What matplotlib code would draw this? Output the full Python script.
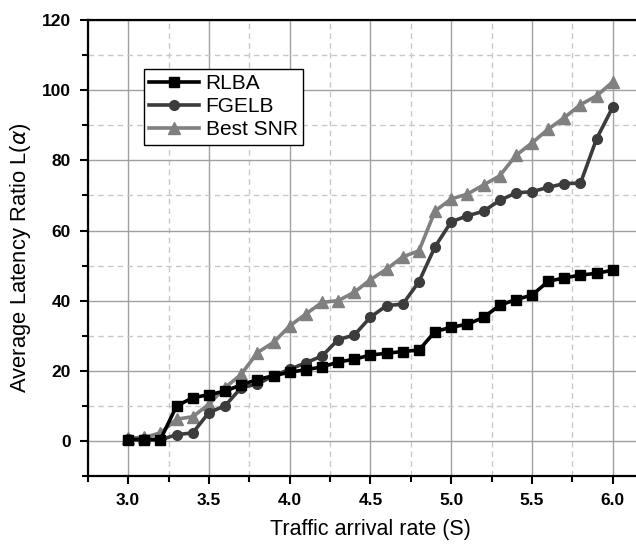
import matplotlib
matplotlib.use('Agg')
import matplotlib.pyplot as plt
from matplotlib.ticker import MultipleLocator

# traffic arrival rate, 3.0 .. 6.0 in steps of 0.1
rates = [3.0, 3.1, 3.2, 3.3, 3.4, 3.5, 3.6, 3.7, 3.8, 3.9,
         4.0, 4.1, 4.2, 4.3, 4.4, 4.5, 4.6, 4.7, 4.8, 4.9,
         5.0, 5.1, 5.2, 5.3, 5.4, 5.5, 5.6, 5.7, 5.8, 5.9, 6.0]

rlba = [0.4, 0.3, 0.4, 10.0, 12.3, 13.2, 14.2, 16.0, 17.5, 18.6,
        19.6, 20.3, 21.1, 22.5, 23.3, 24.5, 25.0, 25.5, 25.9, 31.2,
        32.4, 33.3, 35.2, 38.7, 40.3, 41.6, 45.5, 46.5, 47.3, 47.8, 48.7]

fgelb = [0.5, 0.6, 0.3, 1.8, 2.3, 8.1, 10.0, 15.2, 16.2, 18.6,
         20.4, 22.3, 24.2, 28.9, 30.2, 35.3, 38.6, 39.0, 45.4, 55.4,
         62.5, 64.2, 65.5, 68.6, 70.7, 71.1, 72.3, 73.4, 73.5, 86.2, 95.2]

best_snr = [0.8, 1.0, 2.3, 6.2, 6.9, 10.5, 15.2, 19.0, 25.2, 28.1,
            32.8, 36.2, 39.5, 40.0, 42.4, 46.0, 49.0, 52.5, 54.2, 65.6,
            69.0, 70.4, 73.0, 75.6, 81.4, 85.0, 88.9, 92.2, 95.9, 98.4, 102.4]

plt.rcParams['font.family'] = ['Liberation Sans', 'DejaVu Sans']

fig = plt.figure(figsize=(6.36, 5.44), dpi=100)
ax = fig.add_axes([0.138, 0.125, 0.889, 0.838])

ax.plot(rates, rlba, color='black', lw=2.6, marker='s', ms=7, label='RLBA', zorder=5)
ax.plot(rates, fgelb, color='#3c3c3c', lw=2.6, marker='o', ms=7, label='FGELB', zorder=4)
ax.plot(rates, best_snr, color='#808080', lw=2.6, marker='^', ms=9, label='Best SNR', zorder=3)

ax.set_xlim(2.75, 6.25)
ax.set_ylim(-10, 120)
ax.xaxis.set_major_locator(MultipleLocator(0.5))
ax.xaxis.set_minor_locator(MultipleLocator(0.25))
ax.yaxis.set_major_locator(MultipleLocator(20))
ax.yaxis.set_minor_locator(MultipleLocator(10))

ax.grid(which='major', color='#a0a0a0', lw=1.0, ls='-')
ax.grid(which='minor', color='#c8c8c8', lw=1.0, ls=(0, (4, 3)))
ax.set_axisbelow(True)

ax.tick_params(which='major', direction='out', length=6, width=1.5, labelsize=12.5, pad=6)
ax.tick_params(which='minor', direction='out', length=4, width=1.5)
for lab in ax.get_xticklabels() + ax.get_yticklabels():
    lab.set_fontweight('bold')

for side in ['left', 'bottom', 'top', 'right']:
    ax.spines[side].set_linewidth(1.6)

ax.set_xlabel('Traffic arrival rate (S)', fontsize=15.5, labelpad=8)
ax.set_ylabel(r'Average Latency Ratio L($\alpha$)', fontsize=15.8)
ax.yaxis.set_label_coords(-0.097, 0.48)

leg = ax.legend(loc='upper left', bbox_to_anchor=(0.0996, 0.893), borderaxespad=0,
                fontsize=15, fancybox=False, edgecolor='black', framealpha=1,
                handlelength=2.4, labelspacing=0.2, borderpad=0.25, handletextpad=0.3)
leg.get_frame().set_linewidth(1.0)

fig.savefig('out.png', dpi=100)
